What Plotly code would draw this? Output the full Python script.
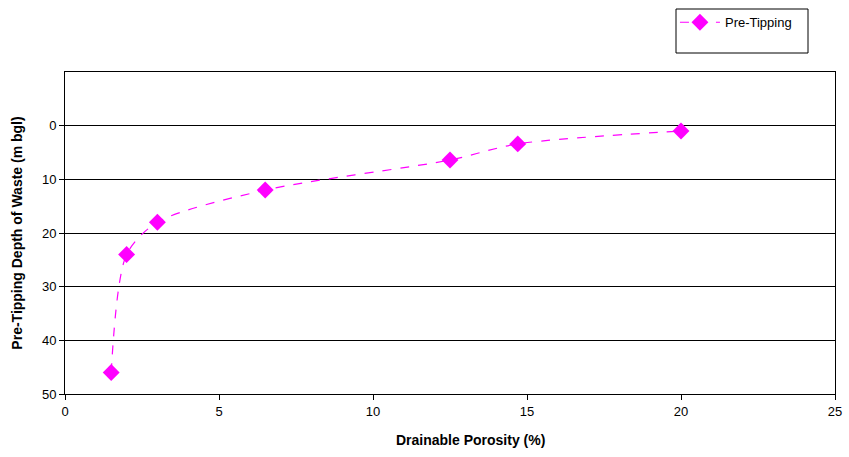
import plotly.graph_objects as go

porosity = [1.5, 2.0, 3.0, 6.5, 12.5, 14.7, 20.0]
depth = [46.0, 24.0, 18.0, 12.0, 6.4, 3.4, 1.0]
series_name = "Pre-Tipping"
x_ticks = [0, 5, 10, 15, 20, 25]
y_ticks = [0, 10, 20, 30, 40, 50]

fig = go.Figure()
fig.add_trace(go.Scatter(
    x=porosity, y=depth, name=series_name, mode="lines+markers",
    line=dict(color="#FF00FF", width=1.2, dash="dash", shape="spline", smoothing=0.8),
    marker=dict(symbol="diamond", size=13, color="#FF00FF"),
))

font = "Liberation Sans, Arial, sans-serif"
fig.update_layout(
    width=849, height=457,
    margin=dict(l=65, r=14, t=72, b=63, autoexpand=False),
    paper_bgcolor="white", plot_bgcolor="white",
    font=dict(family=font, size=13, color="black"),
    showlegend=True,
    legend=dict(x=0.795, y=0.984, xref="container", yref="container", xanchor="left", yanchor="top",
                bgcolor="rgba(0,0,0,0)", borderwidth=0, font=dict(size=13),
                itemwidth=40),
    xaxis=dict(range=[0, 25], tickvals=x_ticks, showgrid=False, showline=True, linecolor="black",
               linewidth=1, mirror=True, ticks="outside", ticklen=5, tickcolor="black",
               zeroline=False),
    yaxis=dict(range=[50, -10], tickvals=y_ticks, showgrid=True, gridcolor="black", gridwidth=1,
               showline=True, linecolor="black", linewidth=1, mirror=True, ticks="outside",
               ticklen=5, tickcolor="black", zeroline=False,
               title=dict(text="<b>Pre-Tipping Depth of Waste (m bgl)</b>", font=dict(size=14), standoff=16)),
    annotations=[dict(text="<b>Drainable Porosity (%)</b>", xref="paper", yref="paper",
                      x=(470-65)/770, y=-(440-394)/322, xanchor="center", yanchor="middle",
                      showarrow=False, font=dict(size=14))],
    shapes=[dict(type="rect", xref="paper", yref="paper", x0=(676-65)/770, x1=(808-65)/770,
                 y0=(394-53)/322, y1=(394-9)/322, line=dict(color="black", width=1))],
)

fig.write_html("out.html")
